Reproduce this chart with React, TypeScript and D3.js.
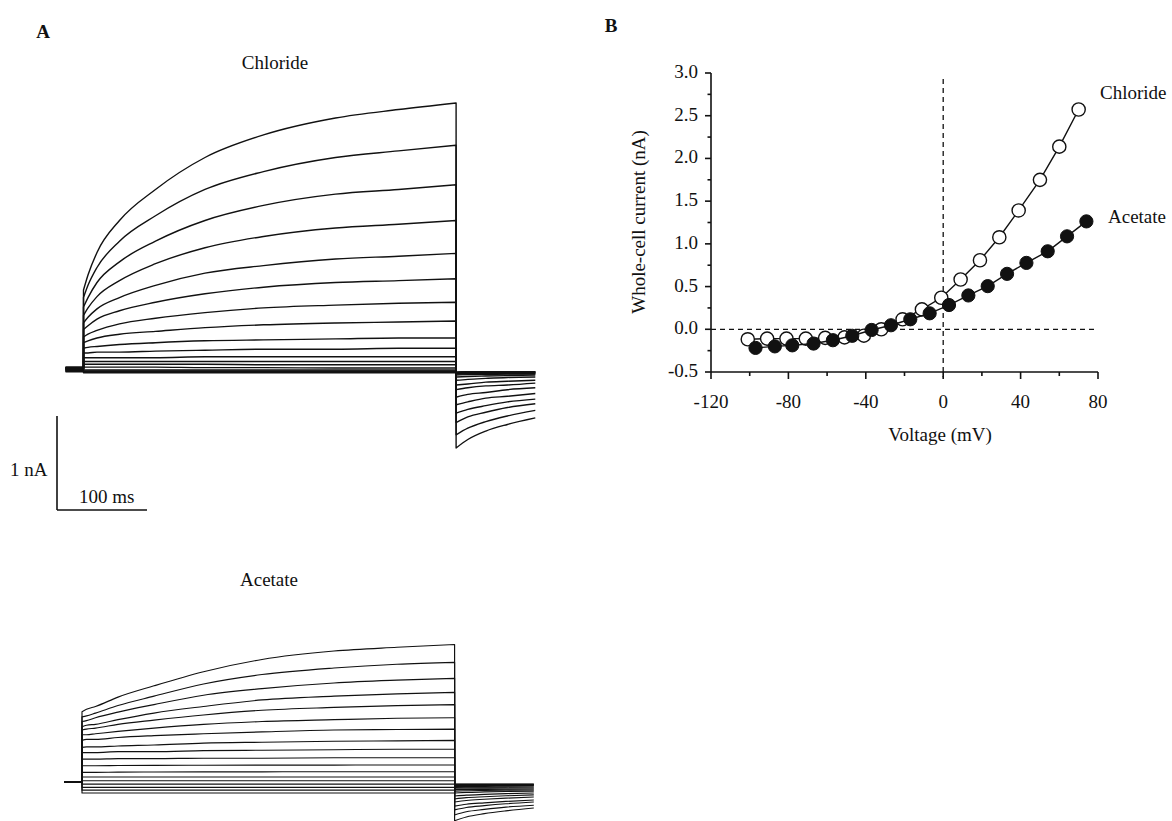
import React from "react";
import * as d3 from "d3";

// ---------- Panel A: whole-cell current traces ----------
// Step protocol: holding, 414 ms voltage step, then tail.
const stepVoltages = [70, 60, 50, 40, 30, 20, 10, 0, -10, -20, -30, -40, -50, -60, -70, -80, -90, -100];
const stepTimes = [0, 5, 15, 40, 80, 135, 200, 280, 350, 414]; // ms
const tailTimes = [414, 427, 447, 471, 502]; // ms
const leadTime = -20; // ms

// Chloride traces (nA), one row per step voltage
const chlorideHold = [0.02, 0.02, 0.015, 0.015, 0.01, 0.01, 0.005, 0.005, 0, 0, 0, -0.005, -0.01, -0.01, -0.015, -0.02, -0.025, -0.03];
const chlorideStep = [
  [0.84, 1.0, 1.24, 1.58, 1.91, 2.25, 2.49, 2.67, 2.76, 2.83],
  [0.76, 0.89, 1.08, 1.36, 1.63, 1.91, 2.1, 2.25, 2.32, 2.38],
  [0.66, 0.76, 0.92, 1.14, 1.36, 1.58, 1.74, 1.86, 1.91, 1.96],
  [0.57, 0.65, 0.77, 0.94, 1.12, 1.29, 1.41, 1.5, 1.54, 1.58],
  [0.49, 0.55, 0.64, 0.76, 0.89, 1.02, 1.1, 1.17, 1.2, 1.23],
  [0.42, 0.46, 0.53, 0.62, 0.71, 0.8, 0.87, 0.92, 0.94, 0.96],
  [0.34, 0.37, 0.41, 0.48, 0.54, 0.6, 0.65, 0.68, 0.7, 0.71],
  [0.28, 0.3, 0.33, 0.37, 0.4, 0.44, 0.47, 0.49, 0.5, 0.51],
  [0.22, 0.23, 0.24, 0.26, 0.28, 0.3, 0.31, 0.32, 0.33, 0.33],
  [0.17, 0.17, 0.18, 0.18, 0.19, 0.2, 0.21, 0.21, 0.22, 0.22],
  [0.12, 0.12, 0.12, 0.12, 0.12, 0.13, 0.13, 0.13, 0.13, 0.13],
  [0.08, 0.08, 0.08, 0.08, 0.08, 0.08, 0.08, 0.08, 0.08, 0.08],
  [0.05, 0.05, 0.05, 0.05, 0.05, 0.05, 0.045, 0.045, 0.045, 0.045],
  [0.02, 0.02, 0.02, 0.02, 0.02, 0.015, 0.015, 0.01, 0.01, 0.01],
  [-0.01, -0.01, -0.01, -0.01, -0.01, -0.01, -0.01, -0.01, -0.01, -0.01],
  [-0.02, -0.02, -0.02, -0.02, -0.02, -0.02, -0.02, -0.02, -0.02, -0.02],
  [-0.03, -0.03, -0.03, -0.03, -0.03, -0.03, -0.03, -0.03, -0.03, -0.03],
  [-0.04, -0.04, -0.04, -0.04, -0.04, -0.04, -0.04, -0.04, -0.04, -0.04],
];
const chlorideTail = [
  [-0.84, -0.75, -0.66, -0.59, -0.52],
  [-0.7, -0.63, -0.56, -0.5, -0.44],
  [-0.57, -0.51, -0.46, -0.41, -0.37],
  [-0.47, -0.43, -0.39, -0.35, -0.32],
  [-0.38, -0.35, -0.31, -0.29, -0.26],
  [-0.3, -0.27, -0.25, -0.22, -0.2],
  [-0.22, -0.2, -0.18, -0.17, -0.15],
  [-0.17, -0.16, -0.14, -0.13, -0.12],
  [-0.12, -0.11, -0.1, -0.09, -0.085],
  [-0.085, -0.08, -0.075, -0.07, -0.065],
  [-0.065, -0.06, -0.06, -0.055, -0.055],
  [-0.055, -0.05, -0.05, -0.05, -0.05],
  [-0.05, -0.045, -0.045, -0.045, -0.045],
  [-0.045, -0.04, -0.04, -0.04, -0.04],
  [-0.04, -0.04, -0.04, -0.035, -0.035],
  [-0.04, -0.035, -0.035, -0.035, -0.035],
  [-0.035, -0.03, -0.03, -0.03, -0.03],
  [-0.035, -0.03, -0.03, -0.03, -0.03],
];

// Acetate traces (nA)
const acetateHold = [0, 0, 0, 0, 0, 0, 0, 0, 0, 0, 0, 0, 0, 0, 0, 0, 0, 0];
const acetateStep = [
  [0.745, 0.77, 0.8, 0.9, 1.02, 1.17, 1.3, 1.39, 1.43, 1.46],
  [0.69, 0.7, 0.73, 0.81, 0.91, 1.04, 1.14, 1.21, 1.25, 1.27],
  [0.64, 0.65, 0.68, 0.74, 0.82, 0.92, 0.99, 1.05, 1.08, 1.1],
  [0.585, 0.6, 0.61, 0.66, 0.73, 0.8, 0.87, 0.91, 0.935, 0.95],
  [0.55, 0.56, 0.57, 0.61, 0.655, 0.71, 0.76, 0.79, 0.81, 0.82],
  [0.5, 0.5, 0.51, 0.535, 0.57, 0.61, 0.64, 0.66, 0.675, 0.68],
  [0.44, 0.45, 0.45, 0.47, 0.49, 0.51, 0.53, 0.55, 0.555, 0.56],
  [0.365, 0.37, 0.37, 0.38, 0.39, 0.41, 0.42, 0.43, 0.435, 0.44],
  [0.31, 0.31, 0.31, 0.32, 0.32, 0.33, 0.335, 0.34, 0.345, 0.345],
  [0.24, 0.24, 0.24, 0.245, 0.245, 0.25, 0.25, 0.255, 0.255, 0.255],
  [0.17, 0.17, 0.17, 0.172, 0.174, 0.175, 0.176, 0.177, 0.178, 0.178],
  [0.1, 0.1, 0.1, 0.102, 0.103, 0.104, 0.105, 0.106, 0.106, 0.106],
  [0.05, 0.05, 0.05, 0.05, 0.05, 0.05, 0.05, 0.05, 0.05, 0.05],
  [0.01, 0.01, 0.01, 0.01, 0.01, 0.01, 0.01, 0.01, 0.01, 0.01],
  [-0.025, -0.025, -0.025, -0.025, -0.025, -0.025, -0.025, -0.025, -0.025, -0.025],
  [-0.06, -0.06, -0.06, -0.06, -0.06, -0.06, -0.06, -0.06, -0.06, -0.06],
  [-0.09, -0.09, -0.09, -0.09, -0.09, -0.09, -0.09, -0.09, -0.09, -0.09],
  [-0.12, -0.12, -0.12, -0.12, -0.12, -0.12, -0.12, -0.12, -0.12, -0.12],
];
const acetateTail = [
  [-0.415, -0.375, -0.34, -0.31, -0.28],
  [-0.354, -0.32, -0.295, -0.27, -0.25],
  [-0.3, -0.275, -0.255, -0.235, -0.216],
  [-0.26, -0.24, -0.225, -0.21, -0.195],
  [-0.216, -0.2, -0.187, -0.175, -0.163],
  [-0.184, -0.17, -0.16, -0.15, -0.14],
  [-0.152, -0.143, -0.135, -0.127, -0.12],
  [-0.12, -0.114, -0.109, -0.104, -0.1],
  [-0.1, -0.096, -0.093, -0.09, -0.088],
  [-0.085, -0.083, -0.081, -0.079, -0.078],
  [-0.07, -0.069, -0.068, -0.067, -0.067],
  [-0.06, -0.059, -0.058, -0.057, -0.056],
  [-0.05, -0.05, -0.049, -0.048, -0.046],
  [-0.042, -0.042, -0.041, -0.04, -0.04],
  [-0.035, -0.035, -0.035, -0.035, -0.035],
  [-0.03, -0.03, -0.03, -0.03, -0.03],
  [-0.027, -0.027, -0.027, -0.027, -0.027],
  [-0.024, -0.024, -0.024, -0.024, -0.024],
];

// ---------- Panel B: current-voltage relation ----------
const chlorideV = [-101, -91, -81, -71, -61, -51, -41, -32, -21, -11, -1, 9, 19, 29, 39, 50, 60, 70];
const chlorideI = [-0.117, -0.109, -0.109, -0.109, -0.1, -0.095, -0.075, 0.0, 0.117, 0.233, 0.369, 0.583, 0.808, 1.077, 1.391, 1.749, 2.138, 2.573];
const acetateV = [-97, -87, -78, -67, -57, -47, -37, -27, -17, -7, 3, 13, 23, 33, 43, 54, 64, 74];
const acetateI = [-0.218, -0.2, -0.188, -0.167, -0.128, -0.076, -0.008, 0.047, 0.117, 0.187, 0.284, 0.396, 0.505, 0.649, 0.777, 0.913, 1.088, 1.263];

const xMajorTicks = [-120, -80, -40, 0, 40, 80];
const xMinorTicks = [-100, -60, -20, 20, 60];
const yMajorTicks = [-0.5, 0, 0.5, 1.0, 1.5, 2.0, 2.5, 3.0];
const yMinorTicks = [-0.25, 0.25, 0.75, 1.25, 1.75, 2.25, 2.75];

const FONT = "'Liberation Serif', 'Times New Roman', serif";
const INK = "#111";

type Scale = d3.ScaleLinear<number, number>;

function tracePath(
  xs: Scale,
  ys: Scale,
  hold: number,
  step: number[],
  tail: number[]
): string {
  const smooth = d3
    .line<[number, number]>()
    .x((d) => xs(d[0]))
    .y((d) => ys(d[1]))
    .curve(d3.curveMonotoneX);
  const stepPts = stepTimes.map((t, i) => [t, step[i]] as [number, number]);
  const tailPts = tailTimes.map((t, i) => [t, tail[i]] as [number, number]);
  const lead = `M${xs(leadTime)},${ys(hold)}L${xs(0)},${ys(hold)}`;
  const s = (smooth(stepPts) || "").replace(/^M/, "L");
  const tl = (smooth(tailPts) || "").replace(/^M/, "L");
  return lead + s + tl;
}

function TraceSet(props: {
  xs: Scale;
  ys: Scale;
  hold: number[];
  step: number[][];
  tail: number[][];
  width: number;
}) {
  const { xs, ys, hold, step, tail, width } = props;
  return (
    <g fill="none" stroke={INK} strokeWidth={width} strokeLinejoin="round">
      {stepVoltages.map((v, i) => (
        <path key={v} d={tracePath(xs, ys, hold[i], step[i], tail[i])} />
      ))}
    </g>
  );
}

export default function App() {
  // Panel A scales (time in ms, current in nA)
  const xCl = d3.scaleLinear().domain([0, 100]).range([83.5, 173.5]);
  const yCl = d3.scaleLinear().domain([0, 1]).range([369, 275]);
  const xAc = d3.scaleLinear().domain([0, 100]).range([82, 172]);
  const yAc = d3.scaleLinear().domain([0, 1]).range([781.7, 687.7]);

  const barH = yCl(0) - yCl(1);
  const barW = xCl(100) - xCl(0);
  const barX = 57;
  const barBottom = 510;

  // Panel B scales
  const xB = d3.scaleLinear().domain([-120, 80]).range([711, 1098]);
  const yB = d3.scaleLinear().domain([-0.5, 3.0]).range([372, 73]);

  const ivLine = (vs: number[], is: number[]) =>
    d3
      .line<number>()
      .x((_, i) => xB(vs[i]))
      .y((d) => yB(d))(is) || "";

  const r = 6.6;

  return (
    <svg
      width={1172}
      height={821}
      style={{ position: "absolute", left: 0, top: 0, background: "#fff", display: "block" }}
      fontFamily={FONT}
    >
      <rect x={0} y={0} width={1172} height={821} fill="#fff" />

      {/* Panel letters */}
      <text x={43} y={38} fontSize={19} fontWeight="bold" textAnchor="middle" fill={INK}>A</text>
      <text x={611} y={32} fontSize={19} fontWeight="bold" textAnchor="middle" fill={INK}>B</text>

      {/* Panel A titles */}
      <text x={275} y={69} fontSize={19} textAnchor="middle" fill={INK}>Chloride</text>
      <text x={269} y={586} fontSize={19} textAnchor="middle" fill={INK}>Acetate</text>

      {/* Traces */}
      <TraceSet xs={xCl} ys={yCl} hold={chlorideHold} step={chlorideStep} tail={chlorideTail} width={1.4} />
      <TraceSet xs={xAc} ys={yAc} hold={acetateHold} step={acetateStep} tail={acetateTail} width={1.15} />

      {/* Scale bar */}
      <g stroke={INK} strokeWidth={1.6} fill="none">
        <line x1={barX} y1={barBottom - barH} x2={barX} y2={barBottom} />
        <line x1={barX} y1={barBottom} x2={barX + barW} y2={barBottom} />
      </g>
      <text x={10} y={476} fontSize={19} fill={INK}>1 nA</text>
      <text x={79} y={503} fontSize={19} fill={INK}>100 ms</text>

      {/* Panel B axes */}
      <g stroke={INK} strokeWidth={1.6} fill="none">
        <line x1={xB(-120)} y1={yB(3.0)} x2={xB(-120)} y2={yB(-0.5)} />
        <line x1={xB(-120)} y1={yB(-0.5)} x2={xB(80)} y2={yB(-0.5)} />
        {yMajorTicks.map((t) => (
          <line key={"ym" + t} x1={xB(-120) - 6} x2={xB(-120)} y1={yB(t)} y2={yB(t)} />
        ))}
        {yMinorTicks.map((t) => (
          <line key={"yn" + t} x1={xB(-120) - 3.5} x2={xB(-120)} y1={yB(t)} y2={yB(t)} />
        ))}
        {xMajorTicks.map((t) => (
          <line key={"xm" + t} x1={xB(t)} x2={xB(t)} y1={yB(-0.5)} y2={yB(-0.5) + 7} />
        ))}
        {xMinorTicks.map((t) => (
          <line key={"xn" + t} x1={xB(t)} x2={xB(t)} y1={yB(-0.5)} y2={yB(-0.5) + 4} />
        ))}
      </g>
      <g fontSize={19} fill={INK}>
        {yMajorTicks.map((t) => (
          <text key={"yl" + t} x={xB(-120) - 13} y={yB(t) + 5} textAnchor="end">
            {t.toFixed(1)}
          </text>
        ))}
        {xMajorTicks.map((t) => (
          <text key={"xl" + t} x={xB(t)} y={408} textAnchor="middle">
            {String(t)}
          </text>
        ))}
        <text x={940} y={441} textAnchor="middle">Voltage (mV)</text>
        <text transform="translate(645,222) rotate(-90)" textAnchor="middle">
          Whole-cell current (nA)
        </text>
        <text x={1100} y={99}>Chloride</text>
        <text x={1108} y={223}>Acetate</text>
      </g>

      {/* Reference lines at 0 mV and 0 nA */}
      <g stroke={INK} strokeWidth={1.3} strokeDasharray="5,4" fill="none">
        <line x1={xB(-120)} y1={yB(0)} x2={xB(79)} y2={yB(0)} />
        <line x1={xB(0)} y1={yB(2.93)} x2={xB(0)} y2={yB(-0.56)} />
      </g>

      {/* Chloride I-V: open circles */}
      <path d={ivLine(chlorideV, chlorideI)} fill="none" stroke={INK} strokeWidth={1.4} />
      {chlorideV.map((v, i) => (
        <circle key={"c" + v} cx={xB(v)} cy={yB(chlorideI[i])} r={r} fill="#fff" stroke={INK} strokeWidth={1.4} />
      ))}

      {/* Acetate I-V: filled circles */}
      <path d={ivLine(acetateV, acetateI)} fill="none" stroke={INK} strokeWidth={1.4} />
      {acetateV.map((v, i) => (
        <circle key={"a" + v} cx={xB(v)} cy={yB(acetateI[i])} r={r} fill={INK} stroke={INK} strokeWidth={1} />
      ))}
    </svg>
  );
}
